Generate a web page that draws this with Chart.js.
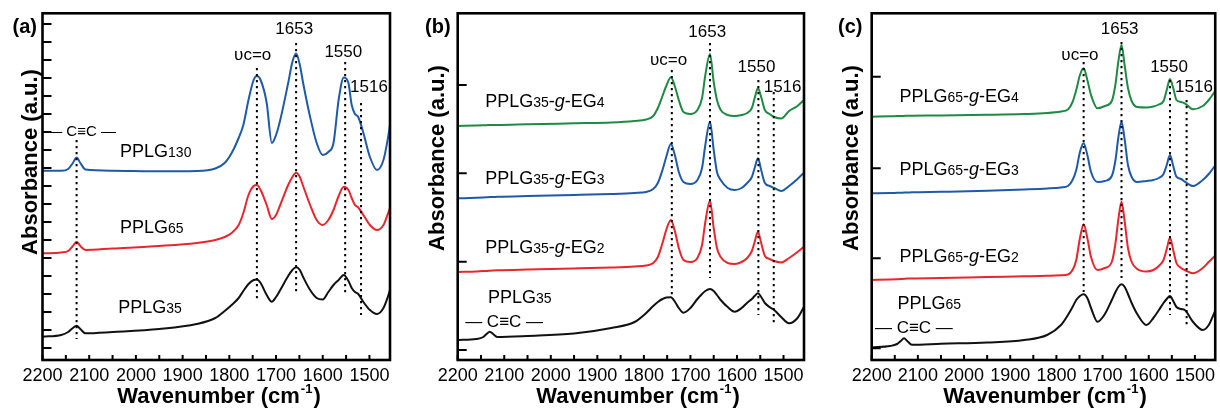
<!DOCTYPE html>
<html>
<head>
<meta charset="utf-8">
<script src="https://cdn.jsdelivr.net/npm/chart.js@4.4.1/dist/chart.umd.min.js"></script>
<style>
  body { margin: 0; background: #fff; width: 1220px; height: 410px; overflow: hidden; position: relative; }
  .panel { position: absolute; top: 0; height: 410px; }
</style>
</head>
<body>
<div class="panel" style="left:0;width:405px"><canvas id="chartA"></canvas></div>
<div class="panel" style="left:405px;width:405px"><canvas id="chartB"></canvas></div>
<div class="panel" style="left:810px;width:410px"><canvas id="chartC"></canvas></div>
<script>
// ---- data (absorbance in a.u.) ----
const wnA = [2200, 2160, 2145, 2135, 2127, 2119, 2108, 2050, 1950, 1870, 1830, 1810, 1795, 1780, 1770, 1759, 1748, 1741, 1733, 1720, 1709, 1700, 1691, 1674, 1665, 1657, 1649, 1642, 1627, 1613, 1600, 1588, 1577, 1566, 1555, 1545, 1538, 1531, 1524, 1513, 1499, 1484, 1470, 1460, 1456];
const pplg130 = [1.893, 1.893, 1.91, 1.97, 2.025, 1.97, 1.905, 1.893, 1.887, 1.89, 1.915, 1.97, 2.07, 2.22, 2.35, 2.60, 2.80, 2.84, 2.80, 2.57, 2.17, 2.25, 2.40, 2.77, 2.98, 3.065, 2.95, 2.77, 2.43, 2.17, 2.05, 2.08, 2.17, 2.60, 2.825, 2.77, 2.55, 2.46, 2.43, 2.27, 2.03, 1.90, 2.00, 2.23, 2.35];
const pplg65A = [1.067, 1.075, 1.09, 1.14, 1.183, 1.14, 1.10, 1.115, 1.14, 1.17, 1.20, 1.23, 1.27, 1.35, 1.47, 1.65, 1.74, 1.75, 1.70, 1.55, 1.41, 1.45, 1.55, 1.75, 1.83, 1.873, 1.83, 1.74, 1.55, 1.40, 1.35, 1.40, 1.50, 1.64, 1.733, 1.70, 1.62, 1.55, 1.525, 1.45, 1.35, 1.30, 1.35, 1.47, 1.52];
const pplg35A = [0.233, 0.25, 0.28, 0.32, 0.343, 0.31, 0.267, 0.28, 0.31, 0.36, 0.42, 0.49, 0.55, 0.62, 0.69, 0.76, 0.80, 0.805, 0.77, 0.65, 0.583, 0.63, 0.70, 0.84, 0.90, 0.927, 0.90, 0.83, 0.70, 0.62, 0.605, 0.68, 0.75, 0.80, 0.85, 0.79, 0.72, 0.68, 0.66, 0.58, 0.50, 0.46, 0.52, 0.64, 0.70];

const wnB = [2200, 2160, 2145, 2138, 2131, 2124, 2115, 2050, 1950, 1870, 1820, 1795, 1780, 1770, 1760, 1752, 1742, 1733, 1725, 1715, 1700, 1685, 1675, 1668, 1658, 1650, 1643, 1635, 1620, 1605, 1590, 1578, 1568, 1562, 1555, 1548, 1540, 1530, 1520, 1505, 1488, 1470, 1456];
const eg4B = [2.34, 2.345, 2.347, 2.348, 2.35, 2.35, 2.35, 2.357, 2.367, 2.375, 2.39, 2.405, 2.44, 2.52, 2.64, 2.74, 2.827, 2.73, 2.60, 2.48, 2.46, 2.50, 2.62, 2.85, 3.06, 2.78, 2.60, 2.50, 2.45, 2.44, 2.45, 2.47, 2.52, 2.62, 2.717, 2.63, 2.50, 2.46, 2.43, 2.415, 2.49, 2.54, 2.60];
const eg3B = [1.617, 1.622, 1.625, 1.627, 1.63, 1.63, 1.632, 1.64, 1.65, 1.66, 1.67, 1.68, 1.71, 1.77, 1.90, 2.03, 2.16, 2.04, 1.88, 1.78, 1.76, 1.80, 1.92, 2.15, 2.383, 2.10, 1.88, 1.80, 1.72, 1.70, 1.72, 1.77, 1.83, 1.92, 2.017, 1.90, 1.77, 1.74, 1.72, 1.69, 1.74, 1.81, 1.873];
const eg2B = [0.88, 0.885, 0.89, 0.89, 0.893, 0.895, 0.897, 0.905, 0.915, 0.925, 0.935, 0.945, 0.97, 1.03, 1.17, 1.30, 1.40, 1.28, 1.12, 1.00, 0.98, 1.02, 1.15, 1.38, 1.593, 1.32, 1.12, 1.03, 0.97, 0.96, 0.98, 1.02, 1.09, 1.18, 1.283, 1.17, 1.04, 1.01, 0.99, 0.975, 1.02, 1.08, 1.133];
const pplg35B = [0.20, 0.21, 0.23, 0.26, 0.283, 0.26, 0.23, 0.24, 0.265, 0.32, 0.38, 0.47, 0.54, 0.58, 0.61, 0.625, 0.627, 0.58, 0.52, 0.473, 0.52, 0.61, 0.66, 0.69, 0.71, 0.69, 0.65, 0.60, 0.53, 0.483, 0.52, 0.573, 0.61, 0.64, 0.667, 0.63, 0.57, 0.53, 0.50, 0.43, 0.367, 0.42, 0.533];

const wnC = [2200, 2160, 2145, 2137, 2130, 2123, 2113, 2050, 1950, 1870, 1820, 1790, 1775, 1765, 1757, 1749, 1741, 1733, 1725, 1711, 1695, 1680, 1672, 1666, 1659, 1652, 1645, 1637, 1625, 1605, 1590, 1578, 1568, 1561, 1554, 1547, 1540, 1530, 1522, 1504, 1483, 1470, 1457];
const eg4C = [2.433, 2.437, 2.439, 2.44, 2.441, 2.442, 2.443, 2.445, 2.452, 2.46, 2.47, 2.485, 2.505, 2.58, 2.70, 2.85, 2.917, 2.80, 2.65, 2.517, 2.54, 2.59, 2.76, 2.98, 3.15, 2.94, 2.72, 2.59, 2.53, 2.525, 2.535, 2.555, 2.59, 2.70, 2.81, 2.72, 2.60, 2.58, 2.567, 2.507, 2.54, 2.60, 2.683];
const eg3C = [1.667, 1.67, 1.672, 1.673, 1.674, 1.675, 1.677, 1.682, 1.692, 1.705, 1.715, 1.725, 1.74, 1.80, 1.90, 2.08, 2.167, 2.05, 1.88, 1.78, 1.79, 1.84, 2.00, 2.22, 2.383, 2.20, 1.95, 1.83, 1.78, 1.79, 1.80, 1.82, 1.86, 1.95, 2.05, 1.94, 1.833, 1.81, 1.783, 1.74, 1.80, 1.86, 1.94];
const eg2C = [0.80, 0.805, 0.808, 0.81, 0.812, 0.814, 0.816, 0.82, 0.83, 0.837, 0.842, 0.848, 0.855, 0.90, 1.00, 1.22, 1.357, 1.22, 1.03, 0.90, 0.92, 0.98, 1.17, 1.40, 1.583, 1.38, 1.12, 0.98, 0.91, 0.885, 0.90, 0.94, 1.00, 1.11, 1.223, 1.10, 0.97, 0.92, 0.90, 0.867, 0.92, 0.98, 1.04];
const pplg65C = [0.127, 0.14, 0.16, 0.19, 0.217, 0.19, 0.152, 0.162, 0.175, 0.20, 0.25, 0.35, 0.45, 0.53, 0.60, 0.64, 0.657, 0.62, 0.52, 0.383, 0.46, 0.60, 0.68, 0.73, 0.757, 0.73, 0.66, 0.57, 0.46, 0.35, 0.42, 0.50, 0.57, 0.61, 0.64, 0.59, 0.53, 0.51, 0.50, 0.38, 0.30, 0.35, 0.483];

// dotted guide lines: [wavenumber, top value, bottom value]
const marksA = [[2127, 2.20, 0.21], [1741, 2.92, 0.58], [1657, 3.17, 0.65], [1552, 2.98, 0.67], [1518, 2.57, 0.45]];
const marksB = [[1740, 2.90, 0.63], [1658, 3.17, 0.82], [1554, 2.80, 0.45], [1521, 2.68, 0.35]];
const marksC = [[1741, 2.98, 0.68], [1659, 3.18, 0.82], [1554, 2.80, 0.45], [1518, 2.60, 0.35]];

// axis ticks
const xTickLabels = [2200, 2100, 2000, 1900, 1800, 1700, 1600, 1500];
const yTicksA = [0.12, 0.30, 0.48, 0.66, 0.84, 1.02, 1.20, 1.38, 1.56, 1.74, 1.92, 2.10, 2.28, 2.46, 2.64, 2.82, 3.00, 3.18, 3.36];
const yTicksB = [0.10, 0.983, 1.867, 2.75];
const yTicksC = [0.117, 1.017, 1.917, 2.833];

const FONT = '"Liberation Sans", Arial, sans-serif';
const BLUE = '#1f5aa8', RED = '#e8262d', GREEN = '#1e8a43', BLACK = '#111111';

// text with _{sub} and *italic* parts, left aligned on the baseline
function drawRich(ctx, str, x, y, size) {
  const re = /_\{([^}]*)\}|\*([^*]*)\*|([^_*]+)/g;
  let m;
  while ((m = re.exec(str))) {
    let txt;
    if (m[1] !== undefined) { txt = m[1]; ctx.font = `${Math.round(size * 0.78)}px ${FONT}`; }
    else if (m[2] !== undefined) { txt = m[2]; ctx.font = `italic ${size}px ${FONT}`; }
    else { txt = m[3]; ctx.font = `${size}px ${FONT}`; }
    ctx.fillText(txt, x, y);
    x += ctx.measureText(txt).width;
  }
}

const decor = {
  id: 'decor',
  afterDraw(chart, args, o) {
    const {ctx, chartArea: a, scales: {x, y}} = chart;
    ctx.save();
    ctx.strokeStyle = '#000';
    ctx.fillStyle = '#000';

    // inward ticks
    ctx.lineWidth = 2;
    ctx.beginPath();
    x.ticks.forEach(t => {
      const px = x.getPixelForValue(t.value);
      ctx.moveTo(px, a.bottom);
      ctx.lineTo(px, a.bottom - 5);
    });
    y.ticks.forEach(t => {
      const py = y.getPixelForValue(t.value);
      ctx.moveTo(a.left, py);
      ctx.lineTo(a.left + 9, py);
    });
    ctx.stroke();

    // frame
    ctx.lineWidth = 2.6;
    ctx.strokeRect(a.left, a.top, a.right - a.left, a.bottom - a.top);

    // panel letter
    ctx.font = `bold 20px ${FONT}`;
    ctx.textBaseline = 'middle';
    ctx.textAlign = 'left';
    ctx.fillText(o.letter, o.letterX, 27);

    // y title
    ctx.save();
    ctx.translate(o.yTitleX, o.yTitleY);
    ctx.rotate(-Math.PI / 2);
    ctx.textAlign = 'center';
    ctx.font = `bold 22px ${FONT}`;
    ctx.fillText('Absorbance (a.u.)', 0, 0);
    ctx.restore();

    // x title with superscript
    const big = `bold 22px ${FONT}`, small = `bold 13px ${FONT}`;
    const p1 = 'Wavenumber (cm', p2 = '-1', p3 = ')';
    ctx.font = big; const w1 = ctx.measureText(p1).width, w3 = ctx.measureText(p3).width;
    ctx.font = small; const w2 = ctx.measureText(p2).width;
    let tx = o.xTitleX - (w1 + w2 + w3 + 2) / 2;
    const ty = 403;
    ctx.textBaseline = 'alphabetic';
    ctx.font = big; ctx.fillText(p1, tx, ty); tx += w1 + 1;
    ctx.font = small; ctx.fillText(p2, tx, ty - 10); tx += w2 + 1;
    ctx.font = big; ctx.fillText(p3, tx, ty);

    // peak notes, centred
    ctx.textAlign = 'center';
    ctx.textBaseline = 'middle';
    o.notes.forEach(([t, w, v]) => {
      ctx.font = `17px ${FONT}`;
      ctx.fillText(t, x.getPixelForValue(w), y.getPixelForValue(v));
    });

    // curve names
    ctx.textAlign = 'left';
    ctx.textBaseline = 'alphabetic';
    o.names.forEach(([t, w, v]) => drawRich(ctx, t, x.getPixelForValue(w), y.getPixelForValue(v), 18));

    // alkyne label
    ctx.textBaseline = 'middle';
    ctx.font = `${o.cc[2]}px ${FONT}`;
    ctx.fillText('— C≡C —', x.getPixelForValue(o.cc[0]), y.getPixelForValue(o.cc[1]));
    ctx.restore();
  }
};

function series(wn, vals, color) {
  return {
    data: wn.map((w, i) => ({x: w, y: vals[i]})),
    borderColor: color, borderWidth: 2, pointRadius: 0,
    cubicInterpolationMode: 'monotone', fill: false
  };
}

function guides(marks) {
  return marks.map(([w, top, bottom]) => ({
    data: [{x: w, y: top}, {x: w, y: bottom}],
    borderColor: '#000', borderWidth: 2, borderDash: [2.2, 3.8], pointRadius: 0, fill: false
  }));
}

function makeChart(id, datasets, yTicks, leftW, rightPad, deco) {
  return new Chart(document.getElementById(id), {
    type: 'line',
    data: {datasets},
    options: {
      responsive: true,
      maintainAspectRatio: false,
      animation: false,
      layout: {padding: {top: 13.3, right: rightPad, left: 0, bottom: 0}},
      plugins: {legend: {display: false}, tooltip: {enabled: false}, decor: deco},
      scales: {
        x: {
          type: 'linear', reverse: true, min: 1456, max: 2200,
          grid: {display: false, drawTicks: false}, border: {display: false},
          ticks: {
            stepSize: 50, includeBounds: false, autoSkip: false, maxRotation: 0,
            padding: 5, color: '#000', font: {family: FONT, size: 18},
            callback: v => xTickLabels.includes(v) ? String(v) : ''
          },
          afterFit: s => { s.height = 50; }
        },
        y: {
          type: 'linear', min: 0, max: 3.467,
          grid: {display: false}, border: {display: false},
          ticks: {display: false},
          afterBuildTicks: s => { s.ticks = yTicks.map(v => ({value: v})); },
          afterFit: s => { s.width = leftW; }
        }
      }
    },
    plugins: [decor]
  });
}

makeChart('chartA', [
  ...guides(marksA),
  series(wnA, pplg130, BLUE),
  series(wnA, pplg65A, RED),
  series(wnA, pplg35A, BLACK)
], yTicksA, 42.5, 15, {
  letter: '(a)', letterX: 12.5, yTitleX: 30.5, yTitleY: 162, xTitleX: 219,
  notes: [['υc=o', 1750, 3.05], ['1653', 1661, 3.31], ['1550', 1556, 3.08], ['1516', 1501, 2.73]],
  names: [['PPLG_{130}', 2034, 2.033], ['PPLG_{65}', 2034, 1.267], ['PPLG_{35}', 2038, 0.467]],
  cc: [2190, 2.28, 15]
});

makeChart('chartB', [
  ...guides(marksB),
  series(wnB, eg4B, GREEN),
  series(wnB, eg3B, BLUE),
  series(wnB, eg2B, RED),
  series(wnB, pplg35B, BLACK)
], yTicksB, 52.7, 6, {
  letter: '(b)', letterX: 20, yTitleX: 32.5, yTitleY: 158, xTitleX: 233,
  notes: [['υc=o', 1747, 3.00], ['1653', 1664, 3.28], ['1550', 1558, 2.93], ['1516', 1502, 2.73]],
  names: [['PPLG_{35}-*g*-EG_{4}', 2141, 2.533], ['PPLG_{35}-*g*-EG_{3}', 2141, 1.76], ['PPLG_{35}-*g*-EG_{2}', 2141, 1.067], ['PPLG_{35}', 2135, 0.567]],
  cc: [2184, 0.38, 17]
});

makeChart('chartC', [
  ...guides(marksC),
  series(wnC, eg4C, GREEN),
  series(wnC, eg3C, BLUE),
  series(wnC, eg2C, RED),
  series(wnC, pplg65C, BLACK)
], yTicksC, 61.7, 1, {
  letter: '(c)', letterX: 28, yTitleX: 41.5, yTitleY: 158, xTitleX: 235,
  notes: [['υc=o', 1749, 3.05], ['1653', 1663, 3.31], ['1550', 1556, 2.93], ['1516', 1502, 2.73]],
  names: [['PPLG_{65}-*g*-EG_{4}', 2140, 2.583], ['PPLG_{65}-*g*-EG_{3}', 2140, 1.85], ['PPLG_{65}-*g*-EG_{2}', 2140, 0.983], ['PPLG_{65}', 2144, 0.507]],
  cc: [2193, 0.32, 17]
});
</script>
</body>
</html>
